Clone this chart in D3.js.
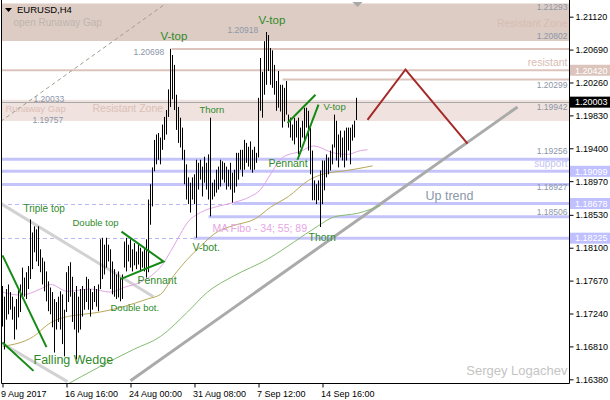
<!DOCTYPE html>
<html><head><meta charset="utf-8">
<script src="https://cdn.jsdelivr.net/npm/d3@7"></script>
<style>
body{margin:0;background:#fff;}
svg{display:block;font-family:"Liberation Sans",Arial,sans-serif;}
</style></head><body>
<svg id="c" width="610" height="400"></svg>
<script>
// ---------- data ----------
const highs = [1.1760,1.1746,1.1756,1.1762,1.1752,1.1746,1.1733,1.1743,1.1756,1.1762,
1.1784,1.1771,1.1778,1.1786,1.1847,1.1830,1.1838,1.1834,1.1838,1.1808,
1.1797,1.1792,1.1779,1.1766,1.1758,1.1752,1.1743,1.1739,1.1746,1.1753,
1.1749,1.1729,1.1778,1.1786,1.1791,1.1772,1.1752,1.1760,1.1746,1.1756,
1.1760,1.1756,1.1772,1.1769,1.1756,1.1752,1.1760,1.1756,1.1762,1.1821,
1.1823,1.1814,1.1823,1.1814,1.1808,1.1792,1.1782,1.1775,1.1779,1.1771,
1.1775,1.1818,1.1823,1.1814,1.1821,1.1808,1.1816,1.1805,1.1814,1.1810,
1.1805,1.1808,1.1821,1.1873,1.1893,1.1915,1.1951,1.1958,1.1960,1.1954,
1.1971,1.1981,1.1990,1.2017,1.2070,1.2062,1.2049,1.2010,1.1994,1.1980,
1.1967,1.1938,1.1919,1.1902,1.1895,1.1902,1.1906,1.1925,1.1921,1.1925,
1.1916,1.1929,1.1921,1.1932,1.1980,1.1895,1.1899,1.1912,1.1916,1.1925,
1.1923,1.1921,1.1916,1.1912,1.1921,1.1908,1.1912,1.1934,1.1934,1.1938,
1.1938,1.1951,1.1947,1.1942,1.1949,1.1938,1.1942,1.1934,1.2006,1.2058,
1.2040,1.2080,1.2092,1.2088,1.2071,1.2068,1.2049,1.2028,1.2041,1.2023,
1.2023,1.2019,1.2028,1.1984,1.1980,1.1971,1.1980,1.1976,1.1980,1.1967,
1.1976,1.1993,1.1993,1.1989,1.1967,1.1937,1.1898,1.1893,1.1898,1.1911,
1.1924,1.1924,1.1932,1.1928,1.1937,1.1945,1.1984,1.1976,1.1958,1.1963,
1.1954,1.1963,1.1967,1.1967,1.1967,1.1971,1.1976,1.2006];
const lows = [1.1707,1.1677,1.1716,1.1723,1.1729,1.1716,1.1690,1.1703,1.1719,1.1726,
1.1743,1.1746,1.1743,1.1756,1.1769,1.1782,1.1804,1.1792,1.1786,1.1778,
1.1762,1.1753,1.1740,1.1727,1.1723,1.1706,1.1673,1.1703,1.1713,1.1703,
1.1684,1.1668,1.1726,1.1739,1.1746,1.1713,1.1703,1.1664,1.1699,1.1703,
1.1720,1.1729,1.1739,1.1729,1.1720,1.1729,1.1739,1.1733,1.1727,1.1756,
1.1769,1.1775,1.1784,1.1792,1.1756,1.1749,1.1746,1.1743,1.1745,1.1740,
1.1743,1.1784,1.1779,1.1792,1.1784,1.1779,1.1787,1.1782,1.1788,1.1779,
1.1784,1.1779,1.1771,1.1778,1.1840,1.1864,1.1910,1.1919,1.1925,1.1919,
1.1938,1.1951,1.1958,1.1981,1.1994,1.2004,1.1990,1.1964,1.1947,1.1941,
1.1925,1.1893,1.1873,1.1867,1.1856,1.1873,1.1867,1.1823,1.1886,1.1899,
1.1877,1.1895,1.1886,1.1873,1.1851,1.1873,1.1877,1.1882,1.1886,1.1890,
1.1899,1.1895,1.1886,1.1890,1.1886,1.1869,1.1882,1.1890,1.1899,1.1912,
1.1903,1.1912,1.1921,1.1916,1.1912,1.1908,1.1912,1.1921,1.1928,1.1989,
1.1980,1.2010,1.2023,1.2041,1.2023,1.2019,1.2010,1.1989,1.1993,1.1988,
1.1967,1.1975,1.1984,1.1967,1.1954,1.1950,1.1945,1.1954,1.1932,1.1941,
1.1954,1.1950,1.1967,1.1937,1.1906,1.1872,1.1872,1.1867,1.1872,1.1837,
1.1867,1.1885,1.1902,1.1906,1.1911,1.1919,1.1941,1.1924,1.1915,1.1928,
1.1924,1.1915,1.1924,1.1937,1.1919,1.1950,1.1954,1.1977];

const xTickIdx = [0,32,64,96,128,160];
const xTickLabels = ["9 Aug 2017","16 Aug 16:00","24 Aug 00:00","31 Aug 08:00","7 Sep 12:00","14 Sep 16:00"];
const yTicks = [1.21120,1.20690,1.20260,1.19830,1.19400,1.18970,1.18530,1.18100,1.17670,1.17240,1.16810,1.16380];

// moving averages (bar index, price)
const ma34 = [[0,1.1752],[9,1.1748],[19,1.1756],[24,1.1762],[32.5,1.1753],[44,1.1756],[54,1.1752],[60.5,1.1758],
[69,1.1765],[76.5,1.1778],[80,1.1788],[84,1.1805],[87.5,1.1821],[92.5,1.1843],[99,1.1856],[107.5,1.1864],
[115.5,1.1869],[124,1.1877],[129,1.1886],[134,1.1906],[140,1.1928],[149,1.1936],[155.5,1.1943],[165.5,1.1934],
[172.5,1.1932],[179,1.1937],[182.5,1.1938]];
const ma55 = [[0,1.1681],[15.5,1.1694],[24,1.1712],[32.5,1.1720],[40.5,1.1723],[49,1.1726],[60.5,1.1733],
[72.5,1.1743],[79,1.1749],[85.5,1.1773],[92.5,1.1795],[99,1.1812],[107.5,1.1831],[115.5,1.1839],[126.5,1.1848],
[134,1.1863],[143,1.1877],[153,1.1898],[160,1.1906],[172.5,1.1911],[185,1.1917]];
const ma89 = [[30,1.1628],[49,1.1655],[65.5,1.1677],[79,1.1694],[92.5,1.1726],[102.5,1.1752],[115.5,1.1773],
[132.5,1.1795],[145.5,1.1817],[157.5,1.1838],[165.5,1.1850],[177.5,1.1855],[189,1.1865]];

// zones (price from, price to)
const zoneTop = [1.20802,1.21293];
const zoneGap = [1.19757,1.20033];
const lastPrice = 1.20003;
// resistance levels [price, start index]
const resistLevels = [[1.20698,84.5],[1.20420,-1],[1.20299,140]];
// support levels [price, start index of solid part]
const supportLevels = [[1.19256,-1],[1.19099,-1],[1.18927,-1],[1.18678,115.5],[1.18506,103],[1.18225,95.5]];
const supportDashed = [[1.18678,115.5],[1.18225,95.5]];

// drawn lines [[i,p],[i,p],...]
const grayDashed = [[-1,1.1975],[80.5,1.2127]];
const channel = [[[-1,1.1868],[75.5,1.1746]],[[-1,1.1686],[32.5,1.1635]]];
const upTrend = [[64,1.1636],[257.5,1.1994]];
const forecast = [[182.5,1.1977],[201.5,1.2043],[232.5,1.1946]];
const patternLines = [
 [[0,1.1800],[22,1.1680]], [[0,1.1686],[15.5,1.1649]],
 [[59.5,1.1831],[80.5,1.1792],[59,1.1769]],
 [[142.5,1.1973],[156.5,1.2010]], [[147.5,1.1925],[158,1.1997]]
];

// text labels [text, index, price]
const patternLabels = [["V-top",79,1.2081,11.5],["V-top",128,1.2102,11.5],["Thorn",98.5,1.1986,9.5],
 ["V-top",160.5,1.1990,9.5],["Pennant",133,1.1916,10.5],["Thorn",153,1.1819,10.5],["V-bot.",95,1.1806,10.5],
 ["Triple top",10.5,1.1857,10],["Double top",35,1.1838,9.5],["Pennant",67.5,1.1762,10.5],
 ["Double bot.",54,1.1727,9.5],["Falling Wedge",15.5,1.1658,12.5]];
const priceNotes = [["1.20698",65.5,1.2062],["1.20918",112.5,1.2091],["1.20033",15.5,1.2001],["1.19757",15,1.1973]];
const rightNotes = [["1.21293",1.2121,"n"],["Resistant Zone",1.2099,"z"],["1.20802",1.2083,"n"],["resistant",1.2048,"z"],
 ["1.20299",1.2019,"n"],["1.19942",1.1990,"n"],["1.19256",1.1932,"n"],["support",1.1915,"s"],
 ["1.18927",1.1886,"n"],["1.18506",1.1853,"n"]];
const zoneLabels = [["open Runaway Gap",5.5,1.2100,"#bdb5ae"],["Runaway Gap",1.5,1.1988,"#dcc0b8"],["Resistant Zone",45,1.1988,"#dcc0b8"]];
const priceBoxes = [[1.20420,"#dcc4bc"],[1.20003,"#000000"],[1.19099,"#c0c0ff"],[1.18678,"#c0c0ff"],[1.18225,"#c0c0ff"]];

// ---------- drawing ----------
const svg = d3.select("#c");
const L = 1, R = 569, B = 383, T = 0;
const x = d3.scaleLinear().domain([0,283]).range([2.5,568.5]);
const y = d3.scaleLinear().domain([1.16380,1.21120]).range([379.3,16.7]);

svg.append("defs").append("clipPath").attr("id","clip")
  .append("rect").attr("x",L).attr("y",T).attr("width",R-L).attr("height",B-T);
const g = svg.append("g").attr("clip-path","url(#clip)");
const line = d3.line().x(d=>x(d[0])).y(d=>y(d[1]));

// zones
g.append("rect").attr("x",L).attr("width",R-L).attr("y",y(zoneTop[1])).attr("height",y(zoneTop[0])-y(zoneTop[1])).attr("fill","#ddccc4");
g.append("rect").attr("x",L).attr("width",R-L).attr("y",y(zoneGap[1])).attr("height",y(zoneGap[0])-y(zoneGap[1])).attr("fill","#f0e2de");

// resistance lines
resistLevels.forEach(([p,s])=>{
  g.append("line").attr("x1",Math.max(L,x(s))).attr("x2",R).attr("y1",y(p)).attr("y2",y(p))
   .attr("stroke","#dcc4bc").attr("stroke-width",2);
});
// support lines
supportLevels.forEach(([p,s])=>{
  g.append("line").attr("x1",Math.max(L,x(s))).attr("x2",R).attr("y1",y(p)).attr("y2",y(p))
   .attr("stroke","#c4c4fa").attr("stroke-width",3);
});
supportDashed.forEach(([p,e])=>{
  g.append("line").attr("x1",L).attr("x2",x(e)).attr("y1",Math.round(y(p))+0.5).attr("y2",Math.round(y(p))+0.5)
   .attr("stroke","#b8b8f4").attr("stroke-width",1).attr("stroke-dasharray","4,3");
});
// last price line
g.append("line").attr("x1",L).attr("x2",R).attr("y1",Math.round(y(lastPrice))+0.5).attr("y2",Math.round(y(lastPrice))+0.5)
 .attr("stroke","#a8a8a8").attr("stroke-width",1);

// zone text
zoneLabels.forEach(([t,i,p,c])=>{
  g.append("text").attr("x",x(i)).attr("y",y(p)).text(t).attr("fill",c)
   .attr("font-size", t==="Runaway Gap"?9.5:(t==="Resistant Zone"?10.5:10));
});

// gray diagonal dashed
g.append("path").attr("d",line(grayDashed)).attr("fill","none").attr("stroke","#a0a090").attr("stroke-width",1).attr("stroke-dasharray","4,3");
// channel
channel.forEach(c=>g.append("path").attr("d",line(c)).attr("fill","none").attr("stroke","#d2d2d2").attr("stroke-width",3));
// up trend
g.append("path").attr("d",line(upTrend)).attr("fill","none").attr("stroke","#aaaaaa").attr("stroke-width",3);

// MAs
const curveLine = d3.line().x(d=>x(d[0])).y(d=>y(d[1])).curve(d3.curveMonotoneX);
g.append("path").attr("d",curveLine(ma89)).attr("fill","none").attr("stroke","#86bb74").attr("stroke-width",1);
g.append("path").attr("d",curveLine(ma55)).attr("fill","none").attr("stroke","#b8a85a").attr("stroke-width",1);
g.append("path").attr("d",curveLine(ma34)).attr("fill","none").attr("stroke","#e0a4e4").attr("stroke-width",1);

// bars
g.append("g").selectAll("line").data(highs).join("line")
 .attr("x1",(d,i)=>x(i)).attr("x2",(d,i)=>x(i))
 .attr("y1",d=>y(d)).attr("y2",(d,i)=>y(lows[i]))
 .attr("stroke","#000").attr("stroke-width",1);

// pattern lines
patternLines.forEach(c=>g.append("path").attr("d",line(c)).attr("fill","none").attr("stroke","#138a13").attr("stroke-width",2));
// forecast zigzag
g.append("path").attr("d",line(forecast)).attr("fill","none").attr("stroke","#a52a2a").attr("stroke-width",2);

// labels
patternLabels.forEach(([t,i,p,s])=>{
  g.append("text").attr("x",x(i)).attr("y",y(p)).text(t).attr("fill","#2f8a2a").attr("font-size",s);
});
priceNotes.forEach(([t,i,p])=>{
  g.append("text").attr("x",x(i)).attr("y",y(p)).text(t).attr("fill","#8c96a8").attr("font-size",8.5);
});
rightNotes.forEach(([t,p,k])=>{
  const col = k==="n"?"#8c96a8":(k==="z"?"#d8bcb2":"#c4c4f2");
  svg.append("text").attr("x",x(282.5)).attr("y",y(p)).attr("text-anchor","end").text(t).attr("fill",col)
   .attr("font-size",k==="n"?8.5:(k==="z"?10.5:10));
});
g.append("text").attr("x",x(105)).attr("y",y(1.1831)).text("MA Fibo - 34; 55; 89").attr("fill","#e6a6e6").attr("font-size",10.5);
g.append("text").attr("x",x(211.5)).attr("y",y(1.1872)).text("Up trend").attr("fill","#8a97aa").attr("font-size",12.5);
svg.append("text").attr("x",x(282.5)).attr("y",y(1.1643)).attr("text-anchor","end").text("Sergey Logachev").attr("fill","#c4c4c4").attr("font-size",13);

// gray shift marker
svg.append("path").attr("d",`M${x(177.5)-5},2 L${x(177.5)+5},2 L${x(177.5)},7 Z`).attr("fill","#a8a8a8");

// header
svg.append("path").attr("d","M5,8 L12,8 L8.5,12 Z").attr("fill","#000");
svg.append("text").attr("x",17).attr("y",13).text("EURUSD,H4").attr("font-size",9.5).attr("fill","#000");

// axes
const ya = d3.axisRight(y).tickValues(yTicks).tickFormat(d3.format(".5f")).tickSize(4).tickPadding(2);
const yG = svg.append("g").attr("transform",`translate(${R+0.5},0)`).call(ya);
yG.select(".domain").remove();
yG.selectAll("text").attr("font-size",9).attr("font-family","Liberation Sans, Arial, sans-serif").attr("fill","#000");
yG.selectAll("line").attr("stroke","#000");

const xa = d3.axisBottom(x).tickValues(xTickIdx).tickFormat((d,i)=>xTickLabels[i]).tickSize(4).tickPadding(3);
const xG = svg.append("g").attr("transform",`translate(0,${B+0.5})`).call(xa);
xG.select(".domain").remove();
xG.selectAll("text").attr("font-size",9).attr("text-anchor","start").attr("dx",-2).attr("font-family","Liberation Sans, Arial, sans-serif").attr("fill","#000");
xG.selectAll("line").attr("stroke","#000");

// frame
svg.append("path").attr("d",`M${L+0.5},${T} V${B+0.5} H${R+0.5} V${T}`).attr("fill","none").attr("stroke","#000").attr("stroke-width",1);

// price boxes
priceBoxes.forEach(([p,c])=>{
  const yy = y(p);
  svg.append("rect").attr("x",R+1).attr("y",yy-5.5).attr("width",610-R-1).attr("height",11).attr("fill",c);
  svg.append("text").attr("x",R+6).attr("y",yy+3.3).text(d3.format(".5f")(p)).attr("fill","#fff").attr("font-size",9);
});
</script>
</body></html>
